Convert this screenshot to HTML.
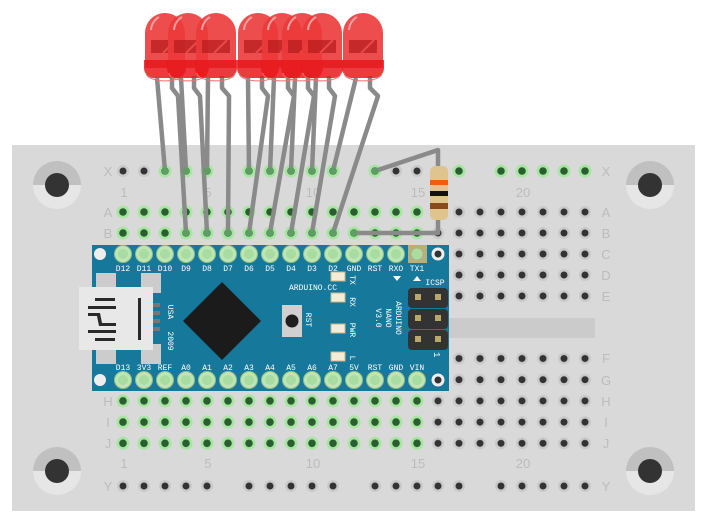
<!DOCTYPE html>
<html><head><meta charset="utf-8"><style>
html,body{margin:0;padding:0;background:#fff;}
svg{display:block;font-family:"Liberation Mono",monospace;}
</style></head><body>
<svg width="703" height="518" viewBox="0 0 703 518" xmlns="http://www.w3.org/2000/svg">
<defs>
<pattern id="dh" patternUnits="userSpaceOnUse" x="112.5" y="201.5" width="21" height="21">
<circle cx="10.5" cy="10.5" r="6" fill="#c9c9c9"/><circle cx="10.5" cy="10.5" r="3.5" fill="#333"/></pattern>
<pattern id="dh2" patternUnits="userSpaceOnUse" x="112.5" y="348" width="21" height="21.2">
<circle cx="10.5" cy="10.5" r="6" fill="#c9c9c9"/><circle cx="10.5" cy="10.5" r="3.5" fill="#333"/></pattern>
<pattern id="gh" patternUnits="userSpaceOnUse" x="112.5" y="201.5" width="21" height="21">
<circle cx="10.5" cy="10.5" r="6.5" fill="#a6e6a0"/><circle cx="10.5" cy="10.5" r="3.8" fill="#2a5e30"/></pattern>
<pattern id="gh2" patternUnits="userSpaceOnUse" x="112.5" y="348" width="21" height="21.2">
<circle cx="10.5" cy="10.5" r="6.5" fill="#a6e6a0"/><circle cx="10.5" cy="10.5" r="3.8" fill="#2a5e30"/></pattern>
<pattern id="xh" patternUnits="userSpaceOnUse" x="112.5" y="160.5" width="21" height="21">
<circle cx="10.5" cy="10.5" r="6" fill="#c9c9c9"/><circle cx="10.5" cy="10.5" r="3.5" fill="#333"/></pattern>
<pattern id="xg" patternUnits="userSpaceOnUse" x="112.5" y="160.5" width="21" height="21">
<circle cx="10.5" cy="10.5" r="6.5" fill="#a6e6a0"/><circle cx="10.5" cy="10.5" r="3.8" fill="#2a5e30"/></pattern>
<pattern id="yh" patternUnits="userSpaceOnUse" x="112.5" y="475.5" width="21" height="21">
<circle cx="10.5" cy="10.5" r="6" fill="#c9c9c9"/><circle cx="10.5" cy="10.5" r="3.5" fill="#333"/></pattern>
<pattern id="pin" patternUnits="userSpaceOnUse" x="112.5" y="243.5" width="21" height="21">
<circle cx="10.5" cy="10.5" r="8.5" fill="#bde6b4" stroke="#8fbf86" stroke-width="1"/><circle cx="10.5" cy="10.5" r="5" fill="#a8dca0"/></pattern>
<pattern id="pinb" patternUnits="userSpaceOnUse" x="112.5" y="369.5" width="21" height="21">
<circle cx="10.5" cy="10.5" r="8.5" fill="#bde6b4" stroke="#8fbf86" stroke-width="1"/><circle cx="10.5" cy="10.5" r="5" fill="#a8dca0"/></pattern>
</defs>
<rect x="12" y="145" width="683" height="366" fill="#d9d9d9"/>
<rect x="449" y="318" width="146" height="20" fill="#cbcbcb"/>
<g>
<path d="M33 185a24 24 0 0 1 48 0z" fill="#c0c0c0"/><path d="M33 185a24 24 0 0 0 48 0z" fill="#e6e6e6"/><circle cx="57" cy="185" r="12" fill="#333"/>
<path d="M626 185a24 24 0 0 1 48 0z" fill="#c0c0c0"/><path d="M626 185a24 24 0 0 0 48 0z" fill="#e6e6e6"/><circle cx="650" cy="185" r="12" fill="#333"/>
<path d="M33 471a24 24 0 0 1 48 0z" fill="#c0c0c0"/><path d="M33 471a24 24 0 0 0 48 0z" fill="#e6e6e6"/><circle cx="57" cy="471" r="12" fill="#333"/>
<path d="M626 471a24 24 0 0 1 48 0z" fill="#c0c0c0"/><path d="M626 471a24 24 0 0 0 48 0z" fill="#e6e6e6"/><circle cx="650" cy="471" r="12" fill="#333"/>
</g>
<rect x="112.5" y="201.5" width="483" height="105" fill="url(#dh)"/>
<rect x="112.5" y="348" width="483" height="106" fill="url(#dh2)"/>
<rect x="112.5" y="201.5" width="315" height="42" fill="url(#gh)"/>
<rect x="112.5" y="390.4" width="315" height="63.6" fill="url(#gh2)"/>
<rect x="112.5" y="160.5" width="105" height="21" fill="url(#xh)"/>
<rect x="238.5" y="160.5" width="105" height="21" fill="url(#xh)"/>
<rect x="364.5" y="160.5" width="105" height="21" fill="url(#xh)"/>
<rect x="490.5" y="160.5" width="105" height="21" fill="url(#xh)"/>
<rect x="154.5" y="160.5" width="63" height="21" fill="url(#xg)"/>
<rect x="238.5" y="160.5" width="105" height="21" fill="url(#xg)"/>
<rect x="364.5" y="160.5" width="21" height="21" fill="url(#xg)"/>
<rect x="448.5" y="160.5" width="21" height="21" fill="url(#xg)"/>
<rect x="490.5" y="160.5" width="105" height="21" fill="url(#xg)"/>
<rect x="112.5" y="475.5" width="105" height="21" fill="url(#yh)"/>
<rect x="238.5" y="475.5" width="105" height="21" fill="url(#yh)"/>
<rect x="364.5" y="475.5" width="105" height="21" fill="url(#yh)"/>
<rect x="490.5" y="475.5" width="105" height="21" fill="url(#yh)"/>
<g fill="#bcbcbc" font-family="Liberation Sans,sans-serif" font-size="13" text-anchor="middle">
<text x="108" y="176">X</text><text x="606" y="176">X</text>
<text x="108" y="217">A</text><text x="606" y="217">A</text>
<text x="108" y="238">B</text><text x="606" y="238">B</text>
<text x="606" y="259">C</text><text x="606" y="280">D</text><text x="606" y="301">E</text>
<text x="606" y="363">F</text><text x="606" y="385">G</text>
<text x="108" y="406">H</text><text x="606" y="406">H</text>
<text x="108" y="427">I</text><text x="606" y="427">I</text>
<text x="108" y="448">J</text><text x="606" y="448">J</text>
<text x="108" y="491">Y</text><text x="606" y="491">Y</text>
<text x="124" y="197">1</text><text x="208" y="197">5</text><text x="313" y="197">10</text><text x="418" y="197">15</text><text x="523" y="197">20</text>
<text x="124" y="468">1</text><text x="208" y="468">5</text><text x="313" y="468">10</text><text x="418" y="468">15</text><text x="523" y="468">20</text>
</g>
<rect x="92" y="245" width="357" height="146" fill="#16789a"/>
<circle cx="100" cy="254" r="6" fill="#eee"/><circle cx="100" cy="380" r="6" fill="#eee"/>
<circle cx="438" cy="254" r="6.5" fill="#eee"/><circle cx="438" cy="254" r="3.5" fill="#333"/>
<circle cx="438" cy="380" r="6.5" fill="#eee"/><circle cx="438" cy="380" r="3.5" fill="#333"/>
<rect x="112.5" y="243.5" width="294" height="21" fill="url(#pin)"/>
<rect x="408" y="245" width="19" height="18" fill="#b8b07a"/><circle cx="417" cy="254" r="5.5" fill="#a8dca0"/>
<rect x="112.5" y="369.5" width="315" height="21" fill="url(#pinb)"/>
<g fill="#fff" font-size="8" text-anchor="middle">
<text x="123" y="271">D12</text><text x="144" y="271">D11</text><text x="165" y="271">D10</text><text x="186" y="271">D9</text><text x="207" y="271">D8</text><text x="228" y="271">D7</text><text x="249" y="271">D6</text><text x="270" y="271">D5</text><text x="291" y="271">D4</text><text x="312" y="271">D3</text><text x="333" y="271">D2</text><text x="354" y="271">GND</text><text x="375" y="271">RST</text><text x="396" y="271">RXO</text><text x="417" y="271">TX1</text>
<text x="123" y="370">D13</text><text x="144" y="370">3V3</text><text x="165" y="370">REF</text><text x="186" y="370">A0</text><text x="207" y="370">A1</text><text x="228" y="370">A2</text><text x="249" y="370">A3</text><text x="270" y="370">A4</text><text x="291" y="370">A5</text><text x="312" y="370">A6</text><text x="333" y="370">A7</text><text x="354" y="370">5V</text><text x="375" y="370">RST</text><text x="396" y="370">GND</text><text x="417" y="370">VIN</text>
<text x="313" y="290">ARDUINO.CC</text>
<text x="435" y="285">ICSP</text>
</g>
<path d="M393 276h8l-4 5z M413 281h8l-4-5z" fill="#fff"/>
<g fill="#fff" font-size="8" text-anchor="middle">
<text transform="translate(168,312) rotate(90)">USA</text>
<text transform="translate(168,341) rotate(90)">2009</text>
<text transform="translate(306,320) rotate(90)">RST</text>
<text transform="translate(350,302) rotate(90)">RX</text>
<text transform="translate(350,330) rotate(90)">PWR</text>
<text transform="translate(350,358) rotate(90)">L</text>
<text transform="translate(350,280) rotate(90)">TX</text>
<text transform="translate(396,318) rotate(90)">ARDUINO</text>
<text transform="translate(386,318) rotate(90)">NANO</text>
<text transform="translate(376,318) rotate(90)">V3.0</text>
</g>
<g fill="#f3ecd6" stroke="#c9b98a" stroke-width="1">
<rect x="331" y="272" width="14" height="9"/><rect x="331" y="293" width="14" height="9"/><rect x="331" y="324" width="14" height="9"/><rect x="331" y="352" width="14" height="9"/>
</g>
<rect x="282" y="305" width="20" height="32" fill="#d0d0d0"/><circle cx="292" cy="321" r="6.5" fill="#1e1e1e"/>
<rect x="96" y="273" width="20" height="20" fill="#ccc"/><rect x="141" y="273" width="20" height="20" fill="#ccc"/>
<rect x="96" y="344" width="20" height="20" fill="#ccc"/><rect x="141" y="344" width="20" height="20" fill="#ccc"/>
<rect x="79" y="287" width="74" height="63" fill="#e8e8e8"/>
<g fill="#2a2a2a"><rect x="95" y="298" width="20" height="3"/><rect x="88" y="306" width="28" height="3"/><path d="M88 313h12l2 10h14v3h-17l-2-10h-9z"/><rect x="88" y="330" width="28" height="3"/><rect x="95" y="338" width="20" height="3"/><rect x="138" y="298" width="3" height="42"/></g>
<g fill="#777"><rect x="153" y="303" width="7" height="4"/><rect x="153" y="311" width="7" height="4"/><rect x="153" y="319" width="7" height="4"/><rect x="153" y="327" width="7" height="4"/></g>
<path d="M222 282L261 321L222 360L183 321Z" fill="#1b1b1b"/>
<g fill="#333"><rect x="408" y="288" width="40" height="20" rx="4"/><rect x="408" y="309" width="40" height="20" rx="4"/><rect x="408" y="330" width="40" height="20" rx="4"/></g>
<g fill="#b8a86a"><rect x="415" y="294" width="6" height="6"/><rect x="435" y="294" width="6" height="6"/><rect x="415" y="315" width="6" height="6"/><rect x="435" y="315" width="6" height="6"/><rect x="415" y="336" width="6" height="6"/><rect x="435" y="336" width="6" height="6"/></g>
<text transform="translate(434,352) rotate(90)" fill="#fff" font-size="9">1</text>
<g stroke="#8a8a8a" stroke-width="4.5" fill="none" stroke-linecap="round" stroke-linejoin="round">
<polyline points="375,171 438,150 438,233 354,233"/>
</g>
<circle cx="375" cy="171" r="3.5" fill="#5e9d66"/><circle cx="354" cy="233" r="3.5" fill="#5e9d66"/>
<rect x="430" y="166" width="18" height="54" rx="5" fill="#e0c48e"/>
<rect x="430" y="180" width="18" height="5" fill="#f25c10"/><rect x="430" y="191" width="18" height="5" fill="#111"/><rect x="430" y="203" width="18" height="6" fill="#8a4a1a"/>
<g stroke="#8a8a8a" stroke-width="4.5" fill="none" stroke-linejoin="round">
<polyline points="157,78 165,171"/><polyline points="172,76 172,88 178,96 186,233"/>
<polyline points="181,78 186,171"/><polyline points="194,76 194,88 200,96 207,233"/>
<polyline points="208,78 207,171"/><polyline points="222,76 222,88 229,96 228,233"/>
<polyline points="248,78 249,171"/><polyline points="262,76 262,88 268,96 249,233"/>
<polyline points="274,78 270,171"/><polyline points="288,76 288,88 294,96 270,233"/>
<polyline points="295,78 291,171"/><polyline points="308,76 308,88 314,96 291,233"/>
<polyline points="316,78 312,171"/><polyline points="329,76 329,88 335,96 312,233"/>
<polyline points="356,78 333,171"/><polyline points="370,76 370,88 378,96 333,233"/>
</g>
<g fill="#5e9d66">
<circle cx="165" cy="171" r="3.5"/><circle cx="186" cy="171" r="3.5"/><circle cx="207" cy="171" r="3.5"/><circle cx="249" cy="171" r="3.5"/><circle cx="270" cy="171" r="3.5"/><circle cx="291" cy="171" r="3.5"/><circle cx="312" cy="171" r="3.5"/><circle cx="333" cy="171" r="3.5"/>
<circle cx="186" cy="233" r="3.5"/><circle cx="207" cy="233" r="3.5"/><circle cx="228" cy="233" r="3.5"/><circle cx="249" cy="233" r="3.5"/><circle cx="270" cy="233" r="3.5"/><circle cx="291" cy="233" r="3.5"/><circle cx="312" cy="233" r="3.5"/><circle cx="333" cy="233" r="3.5"/>
</g>
<defs>
<g id="led">
<path d="M-20 68V33a20 20 0 0 1 40 0V68z" fill="#ec3a3a" fill-opacity="0.9"/>
<path d="M-21 60h42a4 4 0 0 1 0 0v8a10 10 0 0 1-10 10h-22a10 10 0 0 1-10-10z" fill="#e8191c" fill-opacity="0.85"/>
<path d="M-19 73a12 5 0 0 0 38 0" stroke="#f07070" stroke-width="1" fill="none"/>
<path d="M-14 40h28v13h-28z" fill="#b81e1e" fill-opacity="0.75"/>
<path d="M-2 53l13-13" stroke="#e84848" stroke-width="2"/>
<path d="M-14 30a16 16 0 0 1 8-13" stroke="#f5a0a0" stroke-width="2" fill="none"/>
</g>
</defs>
<use href="#led" x="165" y="0"/><use href="#led" x="188" y="0"/><use href="#led" x="216" y="0"/>
<use href="#led" x="258" y="0"/><use href="#led" x="282" y="0"/><use href="#led" x="302" y="0"/><use href="#led" x="322" y="0"/>
<use href="#led" x="363" y="0"/>
</svg>
</body></html>
